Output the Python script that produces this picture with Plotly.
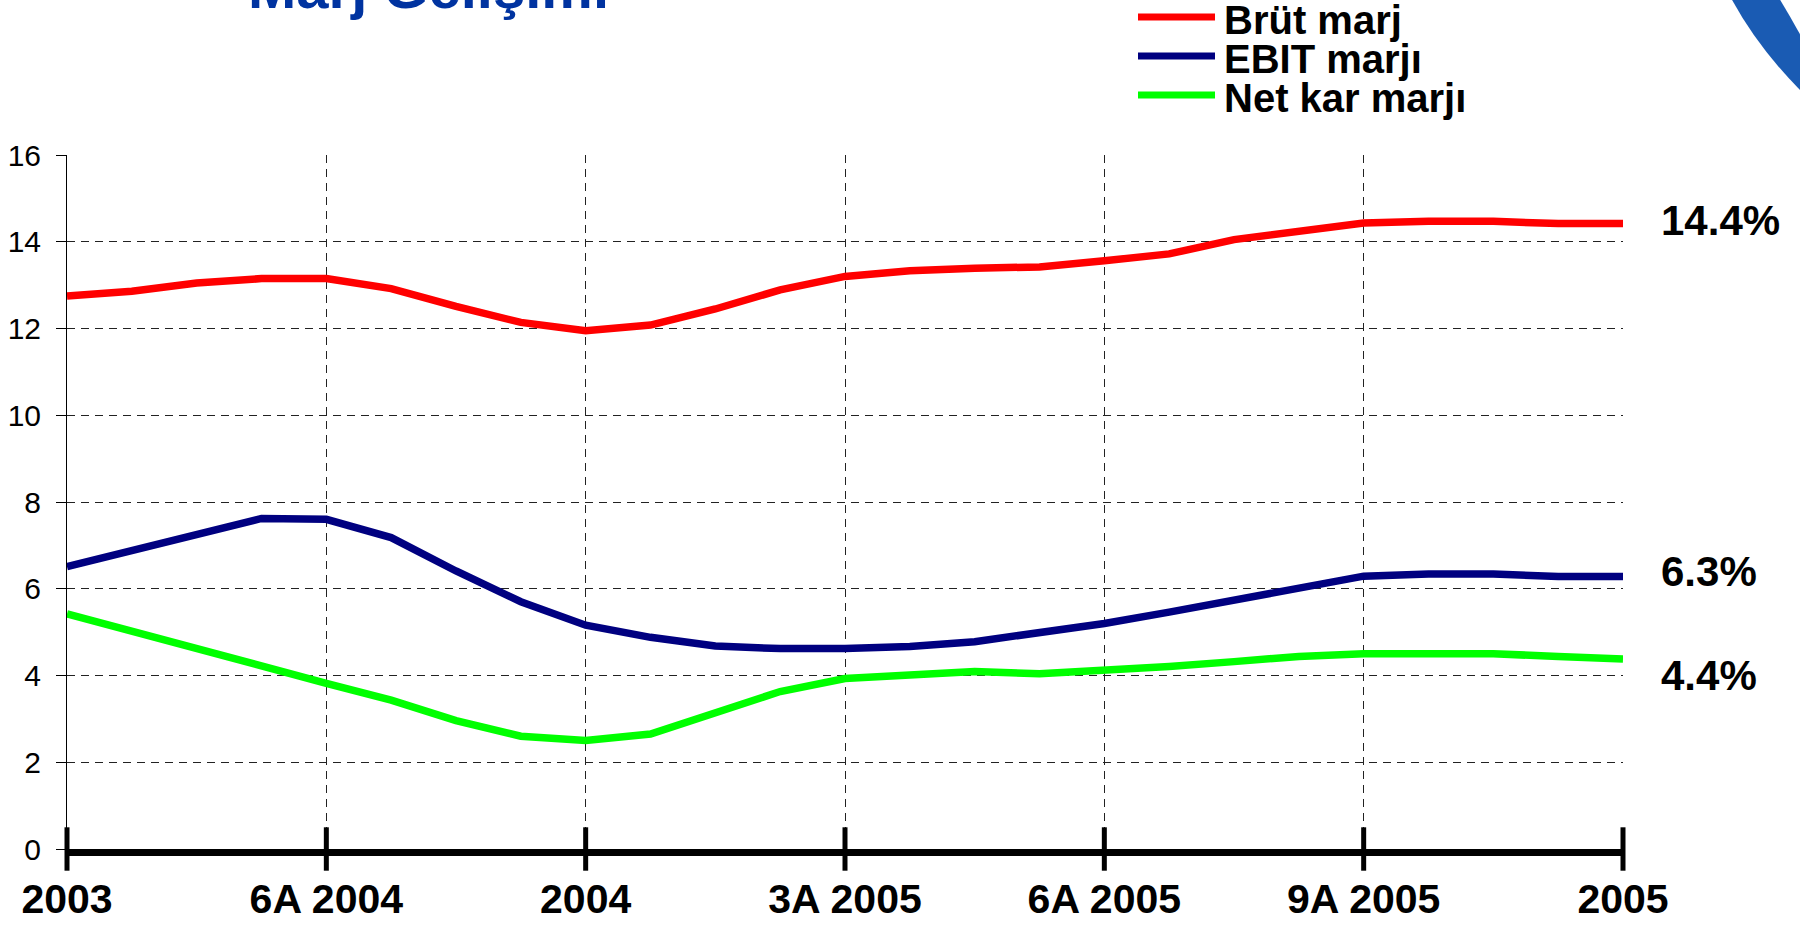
import plotly.graph_objects as go

# ---- data ----
x_idx = list(range(25))
tick_pos = [0, 4, 8, 12, 16, 20, 24]
tick_labels = ["2003", "6A 2004", "2004", "3A 2005", "6A 2005", "9A 2005", "2005"]

brut_marj = [12.75, 12.86, 13.05, 13.15, 13.15, 12.92, 12.51, 12.14, 11.95, 12.08,
             12.45, 12.89, 13.20, 13.33, 13.39, 13.42, 13.56, 13.72, 14.05, 14.25,
             14.43, 14.47, 14.47, 14.42, 14.42]
ebit_marji = [6.51, 6.87, 7.25, 7.62, 7.60, 7.18, 6.41, 5.70, 5.16, 4.88,
              4.68, 4.62, 4.62, 4.67, 4.78, 4.97, 5.20, 5.46, 5.74, 6.02,
              6.29, 6.34, 6.34, 6.28, 6.28]
net_kar_marji = [5.42, 5.01, 4.61, 4.21, 3.82, 3.43, 2.96, 2.60, 2.50, 2.65,
                 3.13, 3.63, 3.93, 4.03, 4.09, 4.04, 4.11, 4.21, 4.32, 4.44,
                 4.50, 4.50, 4.50, 4.44, 4.38]

series_names = ["Brüt marj", "EBIT marjı", "Net kar marjı"]
series_values = [brut_marj, ebit_marji, net_kar_marji]
series_colors = ["#FF0000", "#000080", "#00FF00"]
label_shift = [3, 5, -16]

# ---- layout geometry (page pixels; body margin removed below) ----
W, H = 1800, 931
PL, PR, PT, PB = 67, 1623, 155, 849          # plot area on the page
L, T, R, B = PL, PT, W - PR, H - PB
PW, PH = PR - PL, PB - PT


def px_x(p):
    return (p - PL) / PW


def px_y(p):
    return (PB - p) / PH


FAM = "Liberation Sans, Arial, sans-serif"
bold = dict(family=FAM, size=41, color="black", weight="bold")

fig = go.Figure()
for name, vals, col in zip(series_names, series_values, series_colors):
    fig.add_trace(go.Scatter(x=x_idx, y=vals, mode="lines", name=name,
                             line=dict(color=col, width=7.5), showlegend=False))

# tick marks crossing the thick baseline
fig.add_trace(go.Scatter(x=tick_pos, y=[0] * len(tick_pos), mode="markers",
                         marker=dict(symbol="line-ns-open", size=31, color="black",
                                     line=dict(width=5, color="black")),
                         cliponaxis=False, showlegend=False, hoverinfo="skip"))

annotations = []
# right-end value labels
for vals, sh in zip(series_values, label_shift):
    annotations.append(dict(x=24, y=vals[-1], xref="x", yref="y", text=f"{vals[-1]:.1f}%",
                            showarrow=False, xanchor="left", yanchor="middle",
                            xshift=36, yshift=sh, font=dict(bold, size=42)))

# manual legend
leg_y = [17, 56, 95]
shapes = []
for name, col, yy in zip(series_names, series_colors, leg_y):
    shapes.append(dict(type="line", xref="paper", yref="paper",
                       x0=px_x(1138), x1=px_x(1215), y0=px_y(yy), y1=px_y(yy),
                       line=dict(color=col, width=7)))
    annotations.append(dict(x=px_x(1222), y=px_y(yy + 3), xref="paper", yref="paper",
                            text=name, showarrow=False, xanchor="left", yanchor="middle",
                            font=dict(bold, size=40)))

# cut-off title at top
annotations.append(dict(x=px_x(428), y=px_y(22), xref="paper", yref="paper",
                        text="Marj Gelişimi", showarrow=False, xanchor="center",
                        yanchor="bottom", font=dict(family=FAM, size=58, color="#0033A0",
                                                    weight="bold")))

# blue logo arc at top-right corner
arc = (f"M {px_x(1731)},{px_y(-2)} Q {px_x(1758)},{px_y(48)} {px_x(1802)},{px_y(92)} "
       f"L {px_x(1802)},{px_y(38)} Q {px_x(1790)},{px_y(16)} {px_x(1779)},{px_y(-2)} Z")
shapes.append(dict(type="path", xref="paper", yref="paper", path=arc,
                   fillcolor="#1A5BB3", line=dict(width=0), layer="above"))

fig.update_layout(
    width=W, height=H,
    margin=dict(l=L, r=R, t=T, b=B, pad=0, autoexpand=False),
    paper_bgcolor="white", plot_bgcolor="white",
    annotations=annotations, shapes=shapes,
    showlegend=False,
)

GRID = dict(showgrid=True, gridcolor="#222222", gridwidth=1, griddash="8px,6px")
fig.update_xaxes(range=[0, 24], tickvals=tick_pos, ticktext=tick_labels,
                 tickfont=bold, ticks="", ticklabelstandoff=8, automargin=False,
                 showline=True, linecolor="black", linewidth=7, zeroline=False, **GRID)
fig.update_yaxes(range=[0, 16], tickvals=list(range(0, 17, 2)),
                 tickfont=dict(family=FAM, size=30, color="black"), automargin=False,
                 ticks="outside", ticklen=10, tickwidth=1, tickcolor="black", ticklabelstandoff=9,
                 showline=True, linecolor="black", linewidth=1, zeroline=False, **GRID)

fig.write_html("out.html", config={"displayModeBar": False},
               post_script="document.body.style.margin='0';document.body.style.overflow='hidden';")
